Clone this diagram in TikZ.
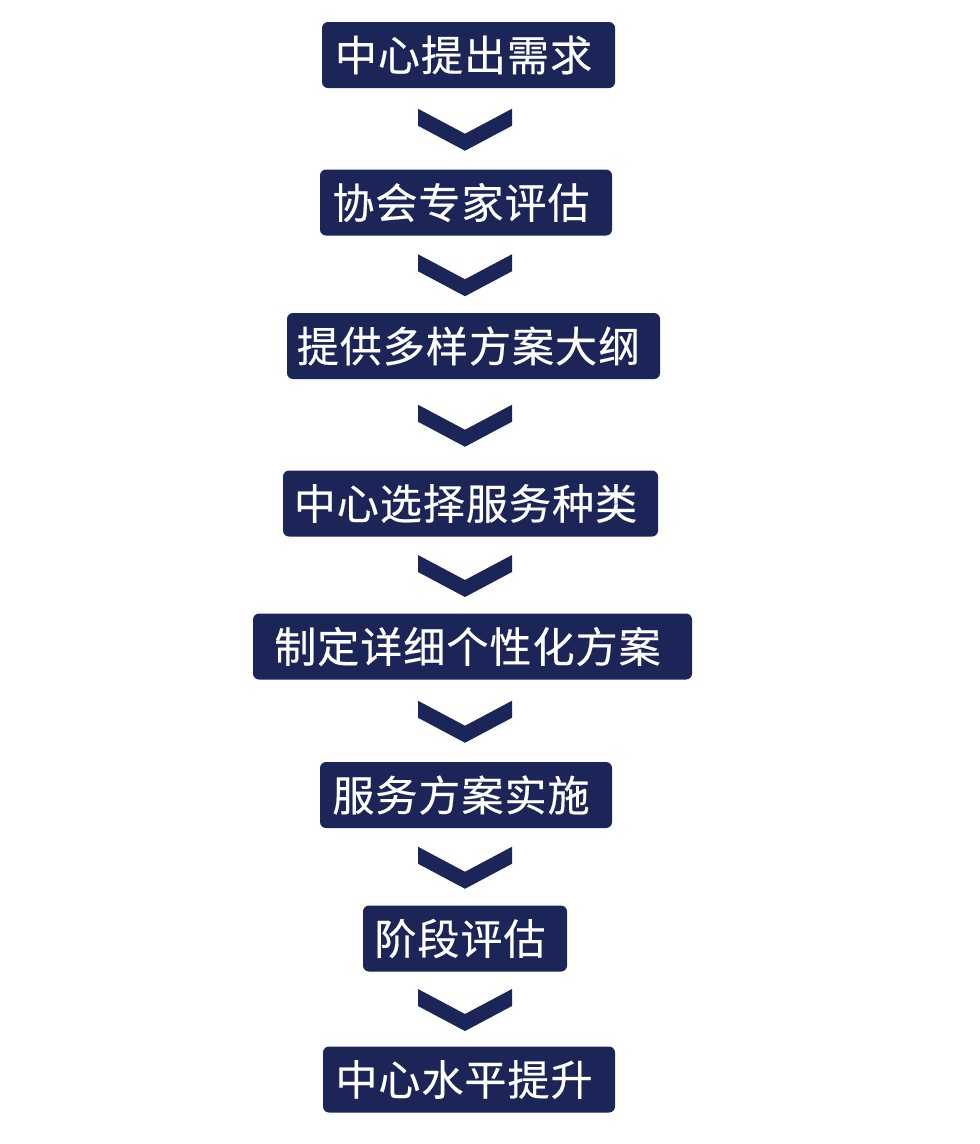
\documentclass[tikz,border=0pt]{standalone}
\usepackage{fontspec}
\newfontfamily\cjk[LetterSpace=2.5, FakeBold=0.4]{Noto Sans CJK SC}
\usetikzlibrary{calc}

\definecolor{navy}{RGB}{28,37,88}

\tikzset{
    stepbox/.style={
        fill=navy,
        text=white,
        rounded corners=6pt,
        minimum height=66pt,
        inner sep=0pt,
        font=\cjk\fontsize{42pt}{42pt}\selectfont,
        execute at end node={\kern10pt},
    },
    chevron/.style={fill=navy},
}

\begin{document}
\begin{tikzpicture}[x=1pt, y=1pt]

\fill[white] (0,0) rectangle (980,-1144);
\useasboundingbox (0,0) rectangle (980,-1144);

% Coordinates
\coordinate (Axis) at (465,0);

% Draws steps
\foreach \name/\x/\y/\w/\txt in {
B1/468.5/-55/293/中心提出需求,
B2/466/-202.5/292/协会专家评估,
B3/473.5/-346/373/提供多样方案大纲,
B4/470.5/-503.5/375/中心选择服务种类,
B5/472.5/-646.5/439/制定详细个性化方案,
B6/466/-795/292/服务方案实施,
B7/465/-938.5/204/阶段评估,
B8/469/-1079.5/292/中心水平提升%
} {
    \node[stepbox, minimum width=\w pt] (\name) at (\x,\y) {\txt};
}

% Draws chevrons
\foreach \a/\b in {B1/B2, B2/B3, B3/B4, B4/B5, B5/B6, B6/B7, B7/B8} {
    \coordinate (M) at ($(\a.south)!0.5!(\b.north)$);
    \fill[chevron]
        ($(Axis |- M)+(-47,20)$) -- ++(47,-25) -- ++(47,25)
        -- ++(0,-17) -- ++(-47,-25) -- ++(-47,25) -- cycle;
}

\end{tikzpicture}
\end{document}
